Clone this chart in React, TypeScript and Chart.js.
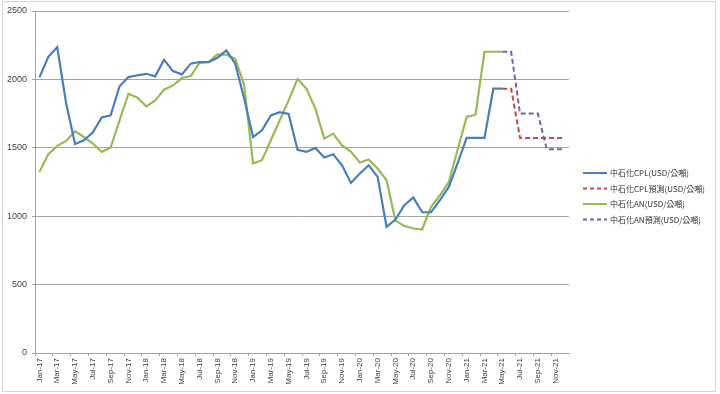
import React, { useEffect, useRef } from 'react';
import { Chart, registerables } from 'chart.js';

Chart.register(...registerables);

// ---- data ----
const monthNames = ['Jan', 'Feb', 'Mar', 'Apr', 'May', 'Jun', 'Jul', 'Aug', 'Sep', 'Oct', 'Nov', 'Dec'];
const years = ['17', '18', '19', '20', '21'];
const categories: string[] = years.flatMap((y) => monthNames.map((m) => `${m}-${y}`));

// 中石化CPL actual, Jan-17 .. May-21
const cplActual = [
  2015, 2165, 2235, 1825, 1528, 1555, 1613, 1722, 1737, 1950, 2017, 2030,
  2041, 2022, 2144, 2061, 2037, 2115, 2127, 2127, 2158, 2212, 2115, 1860,
  1579, 1628, 1737, 1760, 1748, 1485, 1470, 1499, 1429, 1453, 1372, 1243,
  1312, 1372, 1287, 922, 976, 1080, 1137, 1029, 1029, 1117, 1214, 1390,
  1572, 1572, 1572, 1932, 1932,
];
// 中石化CPL forecast, May-21 .. Dec-21
const cplForecast = [1932, 1932, 1572, 1572, 1572, 1572, 1572, 1572];

// 中石化AN actual, Jan-17 .. May-21
const anActual = [
  1324, 1453, 1514, 1550, 1621, 1579, 1531, 1470, 1502, 1701, 1896, 1867,
  1803, 1847, 1925, 1956, 2010, 2024, 2122, 2127, 2183, 2180, 2151, 1960,
  1385, 1409, 1555, 1701, 1847, 2003, 1932, 1786, 1567, 1604, 1518, 1470,
  1392, 1414, 1348, 1263, 968, 929, 910, 903, 1068, 1153, 1250, 1490,
  1725, 1742, 2202, 2202, 2202,
];
// 中石化AN forecast, May-21 .. Dec-21
const anForecast = [2202, 2202, 1750, 1750, 1750, 1490, 1490, 1490];

const yTicks = [0, 500, 1000, 1500, 2000, 2500];

const seriesNames = [
  '中石化CPL(USD/公噸)',
  '中石化CPL預測(USD/公噸)',
  '中石化AN(USD/公噸)',
  '中石化AN預測(USD/公噸)',
];

const BLUE = '#4a7ebb';
const RED = '#be4b48';
const GREEN = '#98b954';
const PURPLE = '#7d60a0';
const GRID = '#a3a3a3';

function padForecast(actualLen: number, values: number[]): (number | null)[] {
  const start = actualLen - 1;
  const out: (number | null)[] = [];
  for (let i = 0; i < categories.length; i++) {
    out.push(i >= start && i - start < values.length ? values[i - start] : null);
  }
  return out;
}
function padActual(values: number[]): (number | null)[] {
  return categories.map((_, i) => (i < values.length ? values[i] : null));
}

const legendItems = [
  { label: seriesNames[0], color: BLUE, dash: false },
  { label: seriesNames[1], color: RED, dash: true },
  { label: seriesNames[2], color: GREEN, dash: false },
  { label: seriesNames[3], color: PURPLE, dash: true },
];

const customLegend = {
  id: 'customLegend',
  afterDraw(chart: any) {
    const ctx = chart.ctx as CanvasRenderingContext2D;
    const x0 = chart.chartArea.right + 14;
    const y0 = 173;
    ctx.save();
    legendItems.forEach((it, i) => {
      const y = y0 + i * 15.5;
      ctx.strokeStyle = it.color;
      ctx.lineWidth = 2;
      ctx.setLineDash(it.dash ? [4, 3] : []);
      ctx.beginPath();
      ctx.moveTo(x0, y);
      ctx.lineTo(x0 + 24, y);
      ctx.stroke();
      ctx.setLineDash([]);
      ctx.fillStyle = '#303030';
      ctx.font = '8px "Noto Sans CJK TC"';
      ctx.textBaseline = 'middle';
      ctx.textAlign = 'left';
      ctx.fillText(it.label, x0 + 27, y);
    });
    ctx.restore();
  },
};

export default function App() {
  const ref = useRef<HTMLCanvasElement | null>(null);

  useEffect(() => {
    document.body.style.margin = '0';
    const canvas = ref.current!;
    const chart = new Chart(canvas, {
      type: 'line',
      data: {
        labels: categories,
        datasets: [
          {
            label: seriesNames[0],
            data: padActual(cplActual),
            borderColor: BLUE,
            backgroundColor: BLUE,
            borderWidth: 2.2,
            pointRadius: 0,
            tension: 0,
          },
          {
            label: seriesNames[1],
            data: padForecast(cplActual.length, cplForecast),
            borderColor: RED,
            backgroundColor: RED,
            borderWidth: 2,
            borderDash: [5, 3],
            pointRadius: 0,
            tension: 0,
          },
          {
            label: seriesNames[2],
            data: padActual(anActual),
            borderColor: GREEN,
            backgroundColor: GREEN,
            borderWidth: 2.2,
            pointRadius: 0,
            tension: 0,
          },
          {
            label: seriesNames[3],
            data: padForecast(anActual.length, anForecast),
            borderColor: PURPLE,
            backgroundColor: PURPLE,
            borderWidth: 2,
            borderDash: [5, 3],
            pointRadius: 0,
            tension: 0,
          },
        ],
      },
      options: {
        responsive: false,
        animation: false,
        devicePixelRatio: 1,
        layout: { padding: { top: 11, right: 151, left: 0, bottom: 0 } },
        plugins: {
          legend: { display: false },
          tooltip: { enabled: false },
        },
        scales: {
          x: {
            offset: true,
            grid: {
              offset: true,
              drawOnChartArea: false,
              drawTicks: true,
              tickLength: 3,
              color: GRID,
              tickColor: (c: any) => (c.index % 2 === 0 ? GRID : 'rgba(0,0,0,0)'),
            },
            border: { display: true, color: GRID, width: 1 },
            ticks: {
              autoSkip: false,
              maxRotation: 90,
              minRotation: 90,
              padding: 2,
              color: '#404040',
              font: { size: 8, family: 'Liberation Sans' },
              callback: (_v: any, i: number) => (i % 2 === 0 ? categories[i] : ''),
            },
            afterFit: (s: any) => {
              s.height = 41;
            },
          },
          y: {
            min: yTicks[0],
            max: yTicks[yTicks.length - 1],
            afterBuildTicks: (s: any) => {
              s.ticks = yTicks.map((v) => ({ value: v }));
            },
            grid: { color: GRID, tickLength: 3, drawTicks: true, lineWidth: 1 },
            border: { display: true, color: GRID, width: 1 },
            ticks: {
              padding: 5,
              color: '#404040',
              font: { size: 9, family: 'Liberation Sans' },
              callback: (v: any) => String(v),
            },
            afterFit: (s: any) => {
              s.width = 35;
            },
          },
        },
      },
      plugins: [customLegend],
    });
    return () => chart.destroy();
  }, []);

  return (
    <div style={{ position: 'relative', width: 720, height: 394, background: '#fff' }}>
      <canvas ref={ref} width={720} height={394} style={{ display: 'block', width: 720, height: 394 }} />
      <div
        style={{
          position: 'absolute',
          left: 2,
          top: 1,
          width: 712,
          height: 389,
          border: '1px solid #d4d4d4',
          pointerEvents: 'none',
        }}
      />
    </div>
  );
}
